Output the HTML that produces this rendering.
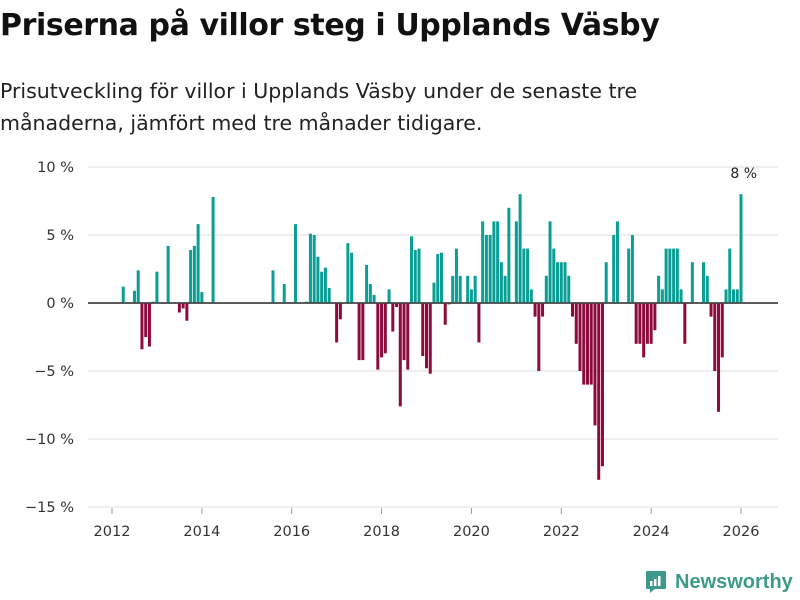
<!DOCTYPE html>
<html><head><meta charset="utf-8"><style>
body{margin:0;background:#fff;font-family:"DejaVu Sans","Liberation Sans",sans-serif;}
#wrap{position:relative;width:800px;height:600px;overflow:hidden;}
h1{position:absolute;left:0;top:8px;margin:0;font-size:30px;font-weight:bold;color:#111;letter-spacing:-0.4px;}
.sub{position:absolute;left:0;top:75px;margin:0;font-size:20.5px;line-height:32px;color:#222;}
</style></head><body>
<div id="wrap">
<h1>Priserna på villor steg i Upplands Väsby</h1>
<p class="sub">Prisutveckling för villor i Upplands Väsby under de senaste tre<br>månaderna, jämfört med tre månader tidigare.</p>
<svg id="chart" width="800" height="600" style="position:absolute;left:0;top:0"></svg>
</div>
<script>
const monthIndex=[3,6,7,8,9,10,11,12,15,18,19,20,21,22,23,24,27,43,46,49,52,53,54,55,56,57,58,60,61,63,64,66,67,68,69,70,71,72,73,74,75,76,77,78,79,80,81,82,83,84,85,86,87,88,89,90,91,92,93,95,96,97,98,99,100,101,102,103,104,105,106,108,109,110,111,112,113,114,115,116,117,118,119,120,121,122,123,124,125,126,127,128,129,130,131,132,134,135,138,139,140,141,142,143,144,145,146,147,148,149,150,151,152,153,155,158,159,160,161,162,163,164,165,166,167,168,169];
const values=[1.2,0.9,2.4,-3.4,-2.5,-3.2,0.1,2.3,4.2,-0.7,-0.4,-1.3,3.9,4.2,5.8,0.8,7.8,2.4,1.4,5.8,0.1,5.1,5.0,3.4,2.3,2.6,1.1,-2.9,-1.2,4.4,3.7,-4.2,-4.2,2.8,1.4,0.6,-4.9,-4.0,-3.7,1.0,-2.1,-0.3,-7.6,-4.2,-4.9,4.9,3.9,4.0,-3.9,-4.8,-5.2,1.5,3.6,3.7,-1.6,-0.1,2.0,4.0,2.0,2.0,1.0,2.0,-2.9,6.0,5.0,5.0,6.0,6.0,3.0,2.0,7.0,6.0,8.0,4.0,4.0,1.0,-1.0,-5.0,-1.0,2.0,6.0,4.0,3.0,3.0,3.0,2.0,-1.0,-3.0,-5.0,-6.0,-6.0,-6.0,-9.0,-13.0,-12.0,3.0,5.0,6.0,4.0,5.0,-3.0,-3.0,-4.0,-3.0,-3.0,-2.0,2.0,1.0,4.0,4.0,4.0,4.0,1.0,-3.0,3.0,3.0,2.0,-1.0,-5.0,-8.0,-4.0,1.0,4.0,1.0,1.0,8.0];
const yTicks=[10,5,0,-5,-10,-15];
const yTickLabels=["10 %","5 %","0 %","−5 %","−10 %","−15 %"];
const xTicks=[2012,2014,2016,2018,2020,2022,2024,2026];
const lastLabel="8 %";

const svg=document.getElementById('chart');
const NS='http://www.w3.org/2000/svg';
const xScale=i=>112+i*3.744;
const yearX=y=>xScale((y-2012)*12);
const yScale=v=>303-v*13.6;
function mk(t,a){const e=document.createElementNS(NS,t);for(const k in a)e.setAttribute(k,a[k]);svg.appendChild(e);return e;}
yTicks.forEach((t,i)=>{
  const g=mk('line',{x1:88,x2:778,y1:yScale(t),y2:yScale(t),stroke:t===0?'#444':'#ddd','stroke-width':t===0?1.5:1});
  
  
  const l=mk('text',{x:74,y:yScale(t)+5,'text-anchor':'end','font-size':14.5,fill:'#333'});
  l.textContent=yTickLabels[i];
  
  
});
xTicks.forEach(y=>{
  const tk=mk('line',{x1:yearX(y),x2:yearX(y),y1:508,y2:514,stroke:'#999'});
  
  
  const l=mk('text',{x:yearX(y),y:536,'text-anchor':'middle','font-size':14.5,fill:'#333'});
  l.textContent=y;
  
  
});
monthIndex.forEach((m,i)=>{
  const v=values[i];const x=xScale(m);
  const y0=yScale(Math.max(v,0)),y1=yScale(Math.min(v,0));
  const r=mk('rect',{x:x-1.5,y:y0,width:3,height:Math.max(y1-y0,0.5),fill:v>=0?'#0a9e94':'#8c0a3c'});
  
  
});
mk('line',{x1:88,x2:778,y1:303,y2:303,stroke:'#444','stroke-width':1.5});
const lm=monthIndex[monthIndex.length-1],lv=values[values.length-1];
const ll=mk('text',{x:xScale(lm)-1,y:yScale(lv)-16,'text-anchor':'middle','font-size':14,fill:'#222'});
ll.textContent=lastLabel;


</script>
<div style="position:absolute;left:645px;top:570px;display:flex;align-items:center;">
<svg width="22" height="24" viewBox="0 0 22 24"><path d="M2 1h18a1 1 0 0 1 1 1v16a1 1 0 0 1-1 1H10l-5 4v-4H2a1 1 0 0 1-1-1V2a1 1 0 0 1 1-1z" fill="#3d9a8b"/><rect x="5" y="11" width="2.5" height="5" fill="#fff"/><rect x="9" y="9" width="2.5" height="7" fill="#fff"/><rect x="13" y="6" width="2.5" height="10" fill="#fff"/></svg>
<span style="margin-left:8px;font-size:20px;color:#3d9a8b;font-family:'Liberation Sans',sans-serif;font-weight:bold;">Newsworthy</span>
</div>
</body></html>
